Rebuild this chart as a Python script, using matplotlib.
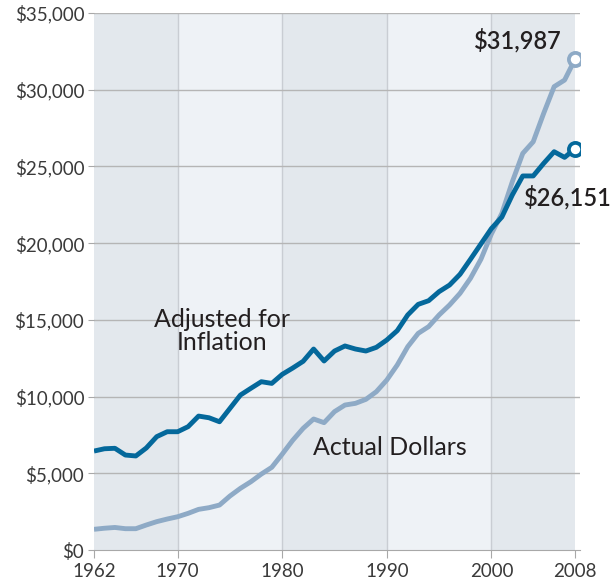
import matplotlib.pyplot as plt
import numpy as np

plt.rcParams['font.family'] = ['Lato', 'DejaVu Sans']

years = list(range(1962, 2009))

# valores corrigidos pela inflacao
ajustado = [6450, 6600, 6630, 6190, 6130, 6650, 7390, 7710, 7710, 8040,
            8730, 8620, 8360, 9230, 10100, 10540, 10970, 10860, 11450, 11860,
            12300, 13100, 12320, 12970, 13300, 13100, 12970, 13210, 13690, 14300,
            15320, 16010, 16250, 16840, 17270, 17970, 18950, 19950, 20950, 21700,
            23140, 24380, 24380, 25200, 25960, 25590, 26151]

# valores nominais
nominal = [1350, 1420, 1470, 1390, 1390, 1630, 1850, 2020, 2170, 2390,
           2650, 2760, 2930, 3520, 4020, 4450, 4950, 5390, 6250, 7150,
           7930, 8540, 8300, 9020, 9450, 9560, 9820, 10320, 11080, 12060,
           13250, 14120, 14560, 15320, 15970, 16730, 17710, 18950, 20600, 21940,
           24000, 25850, 26610, 28460, 30200, 30630, 31987]

xticks = [1962, 1970, 1980, 1990, 2000, 2008]
yticks = list(range(0, 35001, 5000))
decadas = [1962, 1970, 1980, 1990, 2000, 2008]

escuro = '#04689b'
claro = '#8eaac6'
texto = '#231f20'

fig = plt.figure(figsize=(6.16, 5.86), dpi=100)
ax = fig.add_axes([0.1526, 0.0614, 0.7894, 0.9164])

for i in range(len(decadas) - 1):
    cor = '#e3e8ed' if i % 2 == 0 else '#eef2f6'
    ax.axvspan(decadas[i], decadas[i + 1], color=cor, lw=0, zorder=0)
for d in decadas[1:-1]:
    ax.axvline(d, color='#c9cdd3', lw=1, zorder=1)
for v in yticks[1:]:
    ax.axhline(v, color='#b5b5b5', lw=1, zorder=1)

ax.plot(years, nominal, color=claro, lw=3.5, zorder=3, solid_capstyle='butt')
ax.plot(years, ajustado, color=escuro, lw=3.5, zorder=4, solid_capstyle='butt')
ax.plot(years[-1], nominal[-1], 'o', ms=9.5, mfc='white', mec=claro, mew=2.7, zorder=5)
ax.plot(years[-1], ajustado[-1], 'o', ms=9.5, mfc='white', mec=escuro, mew=2.7, zorder=5)

ax.set_xlim(1962, 2008.5)
ax.set_ylim(0, 35000)
ax.set_xticks(xticks)
ax.set_yticks(yticks)
ax.set_yticklabels(['$0'] + ['${:,}'.format(v) for v in yticks[1:]])

for s in ['top', 'right', 'left']:
    ax.spines[s].set_visible(False)
ax.spines['bottom'].set_color('#a8a8a8')
ax.tick_params(axis='x', length=6, color='#a8a8a8', labelsize=13.5, labelcolor='#3a3a3a', pad=3)
ax.tick_params(axis='y', length=4, color='#a8a8a8', labelsize=13.5, labelcolor='#3a3a3a', pad=3)

ax.text(1974.2, 14250, 'Adjusted for\nInflation', ha='center', va='center',
        fontsize=18, color=texto, linespacing=1.0, zorder=6)
ax.text(1982.9, 6650, 'Actual Dollars', ha='left', va='center',
        fontsize=18, color=texto, zorder=6)
ax.text(2006.75, 33250, '$31,987', ha='right', va='center',
        fontsize=17, color=texto, fontweight='semibold', zorder=6)
ax.text(2003.1, 23000, '$26,151', ha='left', va='center',
        fontsize=17, color=texto, fontweight='semibold', zorder=6, clip_on=False)

fig.savefig('out.png', dpi=100)
